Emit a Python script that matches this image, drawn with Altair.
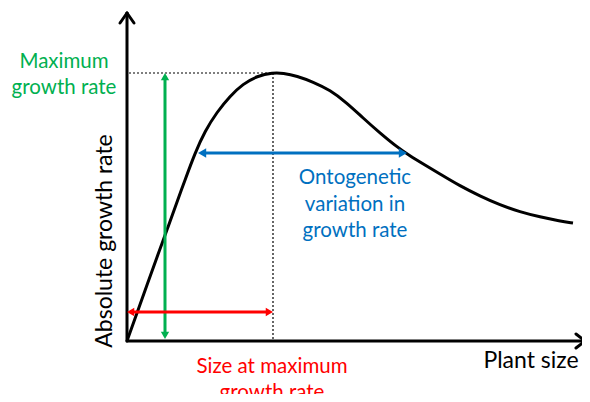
import altair as alt
import pandas as pd
import math

# ---- values (pixel-like units: x right, y down) ----
curve_x = [127, 137, 147, 157, 167, 177, 185, 195, 205, 217, 230, 243, 257, 273,
           283, 297, 313, 330, 347, 363, 380, 397, 410, 425, 440, 460, 480, 500,
           520, 540, 560, 573]
curve_y = [341, 313, 285, 257, 230, 202, 180, 153, 131, 112, 96, 84, 76, 72.5,
           73, 76, 82, 90, 103, 118, 133, 147, 156, 165, 174, 186, 196, 205,
           212, 217, 221, 223]

# axis lines and open arrowheads
axis_x1 = [127, 127, 127, 127, 585, 585]
axis_y1 = [341, 13, 13, 341, 341, 341]
axis_x2 = [127, 120, 134, 585, 576, 576]
axis_y2 = [13, 23, 23, 341, 334, 348]

# dotted guide lines
dot_x1 = [129, 273]
dot_y1 = [73, 73]
dot_x2 = [273, 273]
dot_y2 = [73, 341]

# double-headed arrows (tip to tip)
arrow_name = ["max rate", "size at max", "ontogenetic"]
arrow_x1 = [165, 127, 198]
arrow_y1 = [73, 312, 153]
arrow_x2 = [165, 273, 407]
arrow_y2 = [339, 312, 153]
arrow_color = ["#00B050", "#FF0000", "#0070C0"]
arrow_head = [70, 70, 90]

# labels
label_text = ["Maximum", "growth rate", "Size at maximum", "growth rate",
              "Ontogenetic", "variation in", "growth rate"]
label_x = [64, 64, 272, 272, 355, 355, 355]
label_y = [62, 88, 367, 393, 178, 205, 231]
label_color = ["#00B050", "#00B050", "#FF0000", "#FF0000",
               "#0070C0", "#0070C0", "#0070C0"]
xtitle = "Plant size"
xtitle_x = 531
xtitle_y = 361
ytitle = "Absolute growth rate"
ytitle_x = 105
ytitle_y = 241

FONT = "Lato"
FS = 20.5
FS_TITLE = 23

# ---- build tables ----
curve = pd.DataFrame({"x": curve_x, "y": curve_y})
axes = pd.DataFrame({"x": axis_x1, "y": axis_y1, "x2": axis_x2, "y2": axis_y2})
dots = pd.DataFrame({"x": dot_x1, "y": dot_y1, "x2": dot_x2, "y2": dot_y2})

shafts, heads = [], []
for n, x1, y1, x2, y2, c, s in zip(arrow_name, arrow_x1, arrow_y1, arrow_x2, arrow_y2,
                                   arrow_color, arrow_head):
    h = math.sqrt(3) / 2 * math.sqrt(s) / 2
    if x1 == x2:  # vertical
        shafts.append({"x": x1, "y": y1 + h, "x2": x2, "y2": y2 - h, "c": c})
        heads.append({"x": x1, "y": y1 + h, "c": c, "shape": "triangle-up", "s": s})
        heads.append({"x": x2, "y": y2 - h, "c": c, "shape": "triangle-down", "s": s})
    else:
        shafts.append({"x": x1 + h, "y": y1, "x2": x2 - h, "y2": y2, "c": c})
        heads.append({"x": x1 + h, "y": y1, "c": c, "shape": "triangle-left", "s": s})
        heads.append({"x": x2 - h, "y": y2, "c": c, "shape": "triangle-right", "s": s})
shafts = pd.DataFrame(shafts)
heads = pd.DataFrame(heads)
labels = pd.DataFrame({"t": label_text, "x": label_x, "y": label_y, "c": label_color})
xlab = pd.DataFrame({"t": [xtitle], "x": [xtitle_x], "y": [xtitle_y]})
ylab = pd.DataFrame({"t": [ytitle], "x": [ytitle_x], "y": [ytitle_y]})

xs = alt.Scale(domain=[8, 582], nice=False, zero=False)
ys = alt.Scale(domain=[8, 394], nice=False, zero=False, reverse=True)
X = lambda: alt.X("x:Q", scale=xs, axis=None)
Y = lambda: alt.Y("y:Q", scale=ys, axis=None)

curve_layer = alt.Chart(curve).mark_line(
    color="black", strokeWidth=3, interpolate="basis"
).encode(x=X(), y=Y())

axis_layer = alt.Chart(axes).mark_rule(color="black", strokeWidth=3, strokeCap="round").encode(
    x=X(), y=Y(), x2="x2:Q", y2="y2:Q")

dot_layer = alt.Chart(dots).mark_rule(color="black", strokeWidth=1.2, strokeDash=[2, 2]).encode(
    x=X(), y=Y(), x2="x2:Q", y2="y2:Q")

shaft_layer = alt.Chart(shafts).mark_rule(strokeWidth=3).encode(
    x=X(), y=Y(), x2="x2:Q", y2="y2:Q", color=alt.Color("c:N", scale=None))

head_layer = alt.Chart(heads).mark_point(filled=True, opacity=1, strokeWidth=0).encode(
    x=X(), y=Y(), color=alt.Color("c:N", scale=None),
    shape=alt.Shape("shape:N", scale=None), size=alt.Size("s:Q", scale=None))

label_layer = alt.Chart(labels).mark_text(
    font=FONT, fontSize=FS, align="center", baseline="middle"
).encode(x=X(), y=Y(), text="t:N", color=alt.Color("c:N", scale=None))

xlab_layer = alt.Chart(xlab).mark_text(
    font=FONT, fontSize=FS_TITLE, align="center", baseline="middle", color="black"
).encode(x=X(), y=Y(), text="t:N")

ylab_layer = alt.Chart(ylab).mark_text(
    font=FONT, fontSize=FS_TITLE, align="center", baseline="middle", angle=270, color="black"
).encode(x=X(), y=Y(), text="t:N")

chart = alt.layer(
    dot_layer, axis_layer, curve_layer, shaft_layer, head_layer, label_layer,
    xlab_layer, ylab_layer
).properties(
    width=574, height=386, padding=0, autosize=alt.AutoSizeParams(type="none")
).configure_view(stroke=None)

chart.save("out.html", embed_options={"renderer": "svg", "actions": False})
